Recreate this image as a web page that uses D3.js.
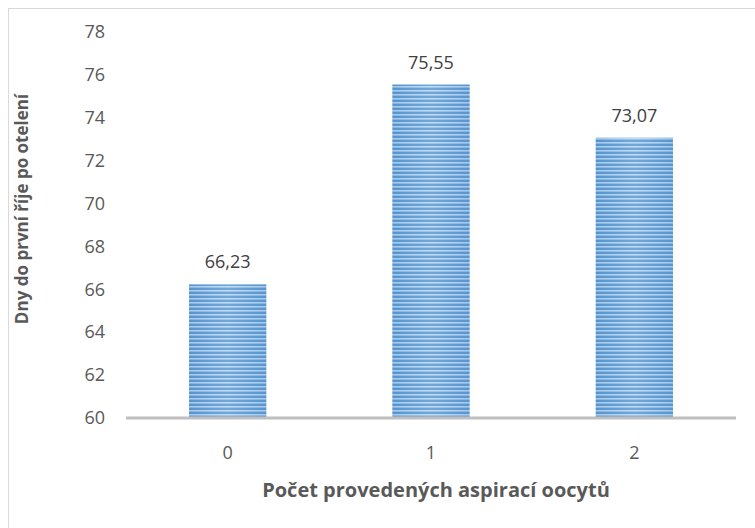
<!DOCTYPE html>
<html>
<head>
<meta charset="utf-8">
<style>
    body, html { margin: 0; padding: 0; background: #fff; }
    svg { display: block; }
</style>
</head>
<body>
<svg width="755" height="528"></svg>
<script src="https://cdn.jsdelivr.net/npm/d3@7"></script>
<script>
    var categories = ["0", "1", "2"];
    var values = [66.23, 75.55, 73.07];
    var yTicks = [60, 62, 64, 66, 68, 70, 72, 74, 76, 78];
    var xTitle = "Počet provedených aspirací oocytů";
    var yTitle = "Dny do první říje po otelení";

    var svg = d3.select("svg");
    var font = "'Open Sans', sans-serif";
    var margin = { left: 126, right: 19, top: 32, bottom: 110 };
    var width = 755, height = 528;

    var x = d3.scaleBand().domain(categories)
        .range([margin.left, width - margin.right]).paddingInner(0.62).paddingOuter(0.31);
    var y = d3.scaleLinear().domain([60, 78]).range([height - margin.bottom, margin.top]);

    // frame
    svg.append("rect").attr("x", 8.5).attr("y", 8.5).attr("width", 760).attr("height", 540)
        .attr("fill", "none").attr("stroke", "#d9d9d9");

    // stripe pattern
    var defs = svg.append("defs");
    var pat = defs.append("pattern").attr("id", "stripes").attr("patternUnits", "userSpaceOnUse")
        .attr("width", 8).attr("height", 4);
    pat.append("rect").attr("width", 8).attr("height", 4).attr("fill", "#5b9bd5");
    pat.append("rect").attr("y", 2).attr("width", 8).attr("height", 1.6).attr("fill", "#bcd6f0");
    var grad = defs.append("linearGradient").attr("id", "shade");
    grad.append("stop").attr("offset", "0%").attr("stop-color", "#2f6fb0").attr("stop-opacity", 0.15);
    grad.append("stop").attr("offset", "50%").attr("stop-color", "#fff").attr("stop-opacity", 0.12);
    grad.append("stop").attr("offset", "100%").attr("stop-color", "#2f6fb0").attr("stop-opacity", 0.15);

    // bars
    var bars = svg.append("g").selectAll("g").data(values).join("g");
    bars.append("rect")
        .attr("x", function(d, i) { return x(categories[i]); })
        .attr("y", function(d) { return y(d); })
        .attr("width", x.bandwidth())
        .attr("height", function(d) { return y(60) - y(d); })
        .attr("fill", "url(#stripes)");
    bars.append("rect")
        .attr("x", function(d, i) { return x(categories[i]); })
        .attr("y", function(d) { return y(d); })
        .attr("width", x.bandwidth())
        .attr("height", function(d) { return y(60) - y(d); })
        .attr("fill", "url(#shade)");

    // value labels
    svg.append("g").selectAll("text").data(values).join("text")
        .attr("x", function(d, i) { return x(categories[i]) + x.bandwidth() / 2; })
        .attr("y", function(d) { return y(d) - 16; })
        .attr("text-anchor", "middle")
        .attr("font-family", font).attr("font-size", 18).attr("fill", "#404040")
        .text(function(d) { return d.toFixed(2).replace(".", ","); });

    // y axis (labels only)
    var yAxis = svg.append("g").attr("transform", "translate(" + (margin.left - 21) + ",0)")
        .call(d3.axisLeft(y).tickValues(yTicks).tickSize(0).tickPadding(0));
    yAxis.select(".domain").remove();
    yAxis.selectAll("text").attr("font-family", font).attr("font-size", 18).attr("fill", "#595959");

    // x axis
    var xAxis = svg.append("g").attr("transform", "translate(0," + y(60) + ")")
        .call(d3.axisBottom(x).tickSize(0).tickPadding(28));
    xAxis.select(".domain").attr("stroke", "#bfbfbf").attr("stroke-width", 3)
        .attr("d", "M" + margin.left + ",0H" + (width - margin.right));
    xAxis.selectAll("text").attr("font-family", font).attr("font-size", 18).attr("fill", "#595959");

    // titles
    svg.append("text").attr("x", 436).attr("y", 497)
        .attr("text-anchor", "middle").attr("font-family", font).attr("font-weight", "bold")
        .attr("font-size", 20).attr("fill", "#595959").text(xTitle);
    svg.append("text")
        .attr("transform", "translate(28,209) rotate(-90)")
        .attr("text-anchor", "middle").attr("font-family", font).attr("font-weight", "bold")
        .attr("font-size", 17).attr("fill", "#595959").text(yTitle);
</script>
</body>
</html>
